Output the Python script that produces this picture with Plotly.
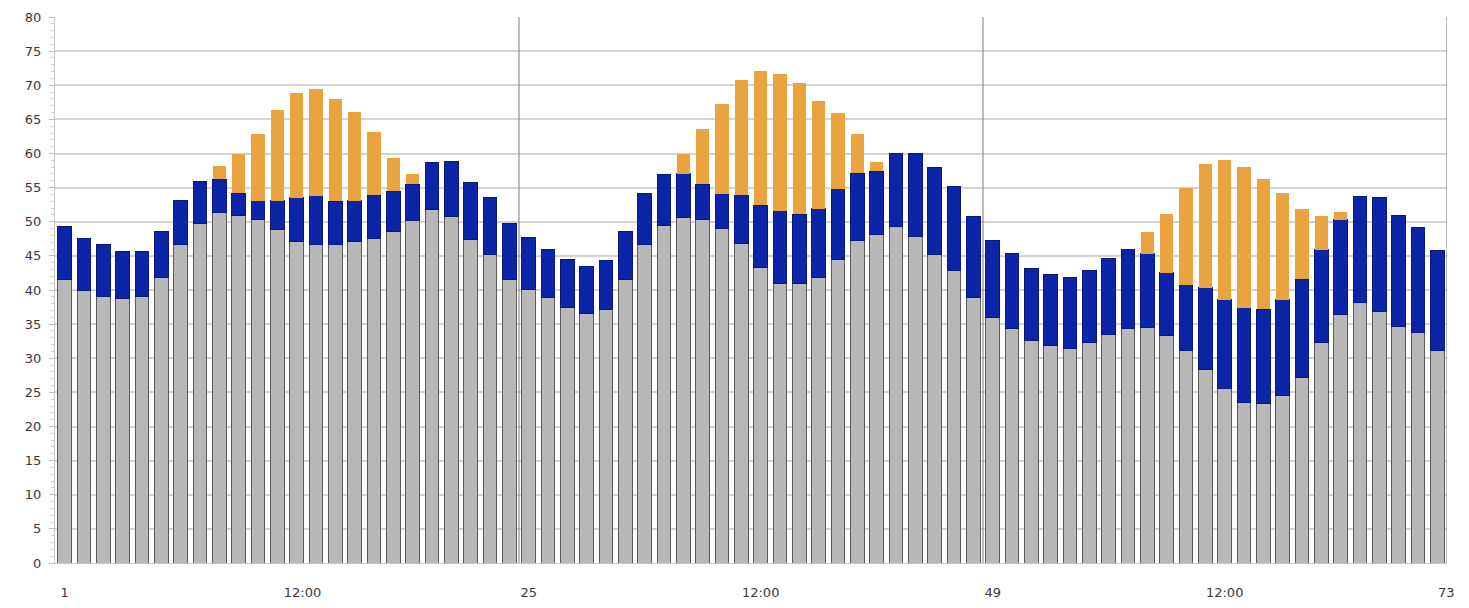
import plotly.graph_objects as go

hours = list(range(1, 73))

gray_vals = [
    41.6, 39.9, 39.1, 38.7, 39.0, 41.9, 46.7, 49.8, 51.3, 50.9, 50.3, 48.9,
    47.1, 46.7, 46.7, 47.1, 47.6, 48.6, 50.2, 51.8, 50.8, 47.4, 45.2, 41.6,
    40.1, 38.9, 37.4, 36.6, 37.2, 41.6, 46.7, 49.5, 50.6, 50.3, 49.0, 46.8,
    43.3, 40.9, 40.9, 41.9, 44.5, 47.3, 48.2, 49.3, 47.9, 45.2, 42.9, 38.9,
    36.0, 34.3, 32.6, 31.8, 31.5, 32.3, 33.5, 34.3, 34.5, 33.4, 31.1, 28.3,
    25.5, 23.5, 23.3, 24.5, 27.2, 32.3, 36.4, 38.1, 36.9, 34.7, 33.8, 31.1,
]
blue_top = [
    49.3, 47.6, 46.6, 45.7, 45.7, 48.5, 53.1, 55.9, 56.2, 54.2, 53.1, 53.1,
    53.5, 53.8, 53.0, 53.1, 53.9, 54.5, 55.5, 58.7, 58.9, 55.7, 53.5, 49.8,
    47.7, 45.9, 44.5, 43.4, 44.3, 48.5, 54.1, 56.9, 57.0, 55.5, 54.1, 53.9,
    52.4, 51.6, 51.1, 51.9, 54.8, 57.1, 57.4, 60.0, 60.0, 58.0, 55.2, 50.8,
    47.3, 45.3, 43.1, 42.2, 41.8, 42.9, 44.6, 45.9, 45.3, 42.5, 40.8, 40.3,
    38.6, 37.4, 37.2, 38.6, 41.6, 45.9, 50.3, 53.7, 53.5, 50.9, 49.2, 45.8,
]
orange_top = [
    None, None, None, None, None, None, None, None, 58.2, 60.0, 62.8, 66.4,
    68.8, 69.4, 68.0, 66.1, 63.1, 59.4, 57.0, None, None, None, None, None,
    None, None, None, None, None, None, None, None, 59.9, 63.6, 67.3, 70.8,
    72.1, 71.7, 70.3, 67.7, 66.0, 62.9, 58.7, None, None, None, None, None,
    None, None, None, None, None, None, None, None, 48.5, 51.1, 55.0, 58.5,
    59.1, 58.0, 56.3, 54.2, 51.9, 50.9, 51.5, None, None, None, None, None,
]

tick_positions = [1, 13.3, 25, 37, 49, 61]
tick_labels = ["1", "12:00", "25", "12:00", "49", "12:00"]
end_label_pos = 73
end_label = "73"
day_boundaries = [24.5, 48.5, 72.5]
x_range = [0.5, 72.5]

blue_vals = [b - g for b, g in zip(blue_top, gray_vals)]
orange_vals = [(o - b) if o is not None else 0 for o, b in zip(orange_top, blue_top)]

FONT = dict(family="DejaVu Sans", size=13, color="#3a3a3a")

fig = go.Figure()
fig.add_bar(x=hours, y=gray_vals, marker=dict(color="#b8b8b8", line=dict(color="#5a5a5a", width=1)),
            width=0.7, name="base")
fig.add_bar(x=hours, y=blue_vals, marker=dict(color="#0c24a8", line=dict(color="#08187c", width=1)),
            width=0.7, name="mid")
fig.add_bar(x=hours, y=orange_vals, marker=dict(color="#e9a43f", line=dict(color="#e9a43f", width=0)),
            width=0.7, name="top")

for xb in day_boundaries:
    fig.add_shape(type="line", xref="x", yref="y", x0=xb, x1=xb, y0=0, y1=80,
                  line=dict(color="#7a7a7a", width=1), layer="above")

end_paper_x = (end_label_pos - x_range[0]) / (x_range[1] - x_range[0])
fig.add_annotation(x=end_paper_x, y=0, xref="paper", yref="paper", text=end_label, showarrow=False,
                   yanchor="top", yshift=-20, font=FONT)

fig.update_layout(
    barmode="stack",
    width=1469, height=608,
    margin=dict(l=55, r=22, t=17, b=45),
    paper_bgcolor="white", plot_bgcolor="white",
    showlegend=False,
    font=FONT,
)
fig.update_xaxes(range=x_range, tickvals=tick_positions, ticktext=tick_labels,
                 showgrid=False, showline=True, linecolor="#c8c8c8", linewidth=1,
                 ticks="", ticklabelstandoff=17, zeroline=False, tickfont=FONT,
                 automargin=False)
fig.update_yaxes(range=[0, 80], dtick=5, showgrid=True, gridcolor="#d4d4d4", gridwidth=1.5,
                 showline=True, linecolor="#c8c8c8", linewidth=1,
                 ticks="outside", ticklen=5, tickcolor="#bdbdbd", ticklabelstandoff=5,
                 minor=dict(dtick=1, ticks="outside", ticklen=3, tickcolor="#cfcfcf"),
                 zeroline=False, tickfont=FONT, automargin=False)

fig.write_html("out.html")
